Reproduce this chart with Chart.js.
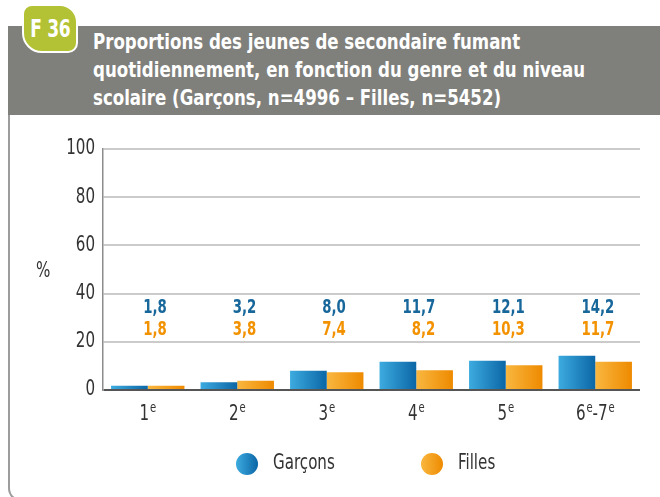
<!DOCTYPE html>
<html lang="fr">
<head>
<meta charset="utf-8">
<title>F36 - Tabagisme quotidien</title>
<script src="https://cdn.jsdelivr.net/npm/chart.js@4.4.1/dist/chart.umd.min.js"></script>
<style>
    html, body {
        margin: 0;
        padding: 0;
        width: 660px;
        height: 497px;
        overflow: hidden;
        background: #fff;
        font-family: 'DejaVu Sans Condensed', sans-serif;
    }
    #panel {
        position: absolute;
        left: 8px;
        top: 100px;
        width: 700px;
        height: 400px;
        border-left: 2px solid #9c9c9c;
        border-bottom: 2px solid #9c9c9c;
        border-bottom-left-radius: 14px;
    }
    #header {
        position: absolute;
        left: 8px;
        top: 26px;
        width: 652px;
        height: 89px;
        background: #7f807b;
    }
    #title {
        position: absolute;
        left: 85px;
        top: 2px;
        color: #fff;
        font-weight: bold;
        font-size: 21px;
        line-height: 28px;
        white-space: nowrap;
        transform: scaleX(0.88);
        transform-origin: left top;
    }
    #badge {
        position: absolute;
        left: 22px;
        top: 4px;
        width: 52px;
        height: 45px;
        background: #b3c235;
        border: 2px solid #fff;
        border-radius: 10px 18px 10px 20px;
        overflow: hidden;
        display: flex;
        justify-content: center;
        align-items: center;
    }
    #badge span {
        flex: none;
        color: #fff;
        font-weight: bold;
        font-size: 25px;
        white-space: nowrap;
        letter-spacing: -0.5px;
        transform: scaleX(0.76);
    }
    #chart {
        position: absolute;
        left: 0;
        top: 0;
    }
</style>
</head>
<body>
<div id="panel"></div>
<div id="header">
    <div id="title">Proportions des jeunes de secondaire fumant<br>quotidiennement, en fonction du genre et du niveau<br>scolaire (Garçons, n=4996 – Filles, n=5452)</div>
</div>
<div id="badge"><span>F 36</span></div>
<canvas id="chart" width="660" height="497"></canvas>

<script>
// niveaux scolaires ("ᵉ" is drawn as a raised small e)
const categories = ['1ᵉ', '2ᵉ', '3ᵉ', '4ᵉ', '5ᵉ', '6ᵉ-7ᵉ'];
const garcons = [1.8, 3.2, 8.0, 11.7, 12.1, 14.2];
const filles = [1.8, 3.8, 7.4, 8.2, 10.3, 11.7];
const yTicks = [0, 20, 40, 60, 80, 100];
const seriesNames = ['Garçons', 'Filles'];

const FONT = "'DejaVu Sans Condensed', sans-serif";
const TEXT = '#333333';
const CAT_PCT = 0.82;
const SQUEEZE = 0.8;   // narrows the canvas text horizontally

const COLORS = {
    garcons: { light: '#3dabdf', dark: '#0b66a6', label: '#17679b' },
    filles: { light: '#f9b740', dark: '#ee8a00', label: '#f39200' }
};

// horizontal light-to-dark gradient across each bar
function barGradient(context, pal) {
    const chart = context.chart;
    const x = chart.scales.x;
    if (!x || !chart.chartArea) return pal.dark;
    const center = x.getPixelForValue(context.dataIndex);
    const pair = (x.width / categories.length) * CAT_PCT;
    const left = context.datasetIndex === 0 ? center - pair / 2 : center;
    const g = chart.ctx.createLinearGradient(left, 0, left + pair / 2, 0);
    g.addColorStop(0, pal.light);
    g.addColorStop(1, pal.dark);
    return g;
}

function drawText(ctx, text, x, y, sx = SQUEEZE) {
    ctx.save();
    ctx.translate(x, y);
    ctx.scale(sx, 1);
    ctx.fillText(text, 0, 0);
    ctx.restore();
}

const fmt = v => v.toFixed(1).replace('.', ',');

// value labels stacked in the upper band of the plot
const valueLabels = {
    id: 'valueLabels',
    afterDatasetsDraw(chart) {
        const { ctx, scales: { x, y } } = chart;
        ctx.save();
        ctx.font = 'bold 20px ' + FONT;
        ctx.textAlign = 'right';
        ctx.textBaseline = 'middle';
        categories.forEach((_, i) => {
            const px = x.getPixelForValue(i) + 19;
            ctx.fillStyle = COLORS.garcons.label;
            drawText(ctx, fmt(garcons[i]), px, y.getPixelForValue(34), 0.74);
            ctx.fillStyle = COLORS.filles.label;
            drawText(ctx, fmt(filles[i]), px, y.getPixelForValue(25), 0.74);
        });
        ctx.restore();
    }
};

// y tick labels, category labels with superscript "e", the % unit and the legend
const extras = {
    id: 'extras',
    afterDraw(chart) {
        const { ctx, scales: { x, y } } = chart;
        const big = '21px ' + FONT;
        const small = '14px ' + FONT;
        ctx.save();
        ctx.fillStyle = TEXT;

        ctx.font = big;
        ctx.textAlign = 'right';
        ctx.textBaseline = 'middle';
        yTicks.forEach(v => drawText(ctx, String(v), y.left + y.width - 8, y.getPixelForValue(v)));

        ctx.textAlign = 'left';
        ctx.textBaseline = 'alphabetic';
        categories.forEach((label, i) => {
            const parts = label.split(/(ᵉ)/).filter(Boolean);
            const widths = parts.map(p => {
                ctx.font = p === 'ᵉ' ? small : big;
                return (ctx.measureText(p === 'ᵉ' ? 'e' : p).width + (p === 'ᵉ' ? 1 : 0)) * SQUEEZE;
            });
            const total = widths.reduce((a, b) => a + b, 0);
            let px = x.getPixelForValue(i) - total / 2;
            const base = y.bottom + 30;
            parts.forEach((p, k) => {
                if (p === 'ᵉ') {
                    ctx.font = small;
                    drawText(ctx, 'e', px + 1, base - 8);
                } else {
                    ctx.font = big;
                    drawText(ctx, p, px, base);
                }
                px += widths[k];
            });
        });

        ctx.font = big;
        ctx.textBaseline = 'middle';
        drawText(ctx, '%', 36, y.getPixelForValue(49));

        // legend
        const items = [
            { name: seriesNames[0], pal: COLORS.garcons, cx: 247 },
            { name: seriesNames[1], pal: COLORS.filles, cx: 432 }
        ];
        const cy = 464;
        items.forEach(it => {
            const g = ctx.createLinearGradient(it.cx - 11, 0, it.cx + 11, 0);
            g.addColorStop(0, it.pal.light);
            g.addColorStop(1, it.pal.dark);
            ctx.fillStyle = g;
            ctx.beginPath();
            ctx.arc(it.cx, cy, 11, 0, Math.PI * 2);
            ctx.fill();
            ctx.fillStyle = TEXT;
            ctx.font = big;
            drawText(ctx, it.name, it.cx + 26, cy);
        });
        ctx.restore();
    }
};

new Chart(document.getElementById('chart'), {
    type: 'bar',
    data: {
        labels: categories,
        datasets: [
            {
                label: seriesNames[0],
                data: garcons,
                backgroundColor: c => barGradient(c, COLORS.garcons)
            },
            {
                label: seriesNames[1],
                data: filles,
                backgroundColor: c => barGradient(c, COLORS.filles)
            }
        ]
    },
    options: {
        responsive: false,
        animation: false,
        events: [],
        categoryPercentage: CAT_PCT,
        barPercentage: 1,
        layout: { padding: { top: 149, right: 20, left: 0, bottom: 0 } },
        plugins: {
            legend: { display: false },
            tooltip: { enabled: false }
        },
        scales: {
            x: {
                grid: { display: false },
                border: { display: false },
                ticks: { display: false },
                afterFit: s => { s.height = 107; }
            },
            y: {
                min: 0,
                max: 100,
                afterBuildTicks: s => { s.ticks = yTicks.map(v => ({ value: v })); },
                grid: {
                    drawTicks: false,
                    color: c => c.tick.value === 0 ? '#555555' : '#cbcbcb',
                    lineWidth: 2
                },
                border: { color: '#8c8c8c', width: 1.5 },
                ticks: { display: false },
                afterFit: s => { s.width = 103; }
            }
        }
    },
    plugins: [valueLabels, extras]
});
</script>
</body>
</html>
